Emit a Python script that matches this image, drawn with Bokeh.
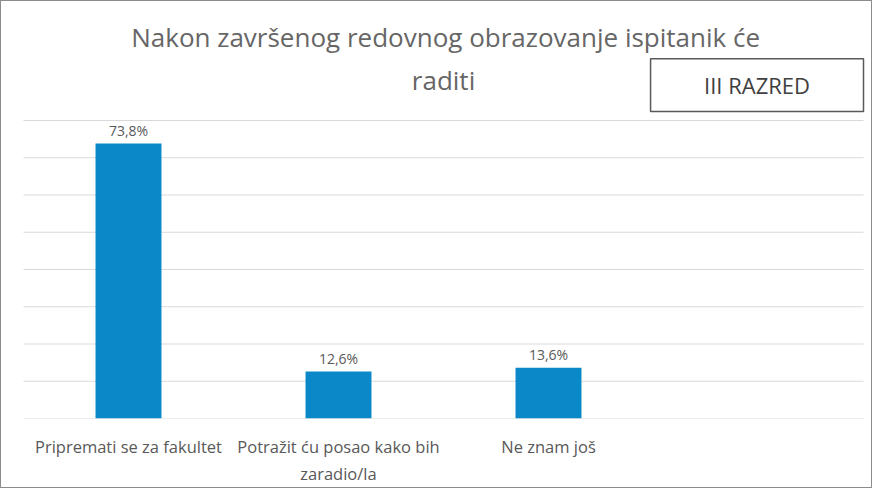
from bokeh.plotting import figure
from bokeh.models import Range1d, FixedTicker
from bokeh.core.properties import value
from bokeh.embed import file_html
from bokeh.resources import INLINE

categories = ["Pripremati se za fakultet", "Potražit ću posao kako bih\nzaradio/la", "Ne znam još"]
values = [73.8, 12.6, 13.6]
value_labels = ["73,8%", "12,6%", "13,6%"]
grid_ticks = [0, 10, 20, 30, 40, 50, 60, 70, 80]
title_lines = ["Nakon završenog redovnog obrazovanje ispitanik će", "raditi"]
badge_text = "III RAZRED"

xs = [i + 0.5 for i in range(len(categories))]

p = figure(width=872, height=488, output_backend="svg", toolbar_location=None,
           x_range=Range1d(-0.10476, 4.0476), y_range=Range1d(0, 111.95),
           min_border_left=0, min_border_right=0, min_border_top=0, min_border_bottom=71)
p.styles = {"border": "1px solid #8c8c8c", "box-sizing": "border-box"}
p.outline_line_color = None
p.background_fill_color = "white"
p.border_fill_color = "white"
p.xgrid.visible = False
p.ygrid.visible = False
p.yaxis.visible = False

# gridlines
p.segment(x0=[0] * len(grid_ticks), x1=[4] * len(grid_ticks), y0=grid_ticks, y1=grid_ticks,
          line_color="#d9d9d9", line_width=1)

p.vbar(x=xs, top=values, width=0.314, fill_color="#0A88C8", line_color=None)

p.text(x=xs, y=values, text=value_labels, text_align="center", text_baseline="bottom",
       y_offset=-4, text_font=value("Open Sans"), text_font_size="14px", text_color="#595959")

# title
p.text(x=[2.01, 2.0], y=[102.4, 91.0], text=title_lines, text_align="center",
       text_baseline="middle", text_font=value("Open Sans"), text_font_size="26px",
       text_color="#666666")

# badge
p.quad(left=[2.986], right=[4.0], top=[96.6], bottom=[82.4], fill_color="white",
       line_color="#595959", line_width=1.5)
p.text(x=[3.493], y=[89.6], text=[badge_text], text_align="center", text_baseline="middle",
       text_font=value("Open Sans"), text_font_size="22px", text_color="#404040")

ax = p.xaxis[0]
ax.ticker = FixedTicker(ticks=xs)
ax.major_label_overrides = {x: c for x, c in zip(xs, categories)}
ax.axis_line_color = None
ax.major_tick_line_color = None
ax.minor_tick_line_color = None
ax.major_tick_out = 0
ax.major_label_standoff = 16
ax.major_label_text_font = "Open Sans"
ax.major_label_text_font_size = "16.5px"
ax.major_label_text_color = "#595959"

open("out.html", "w").write(file_html(p, INLINE))
